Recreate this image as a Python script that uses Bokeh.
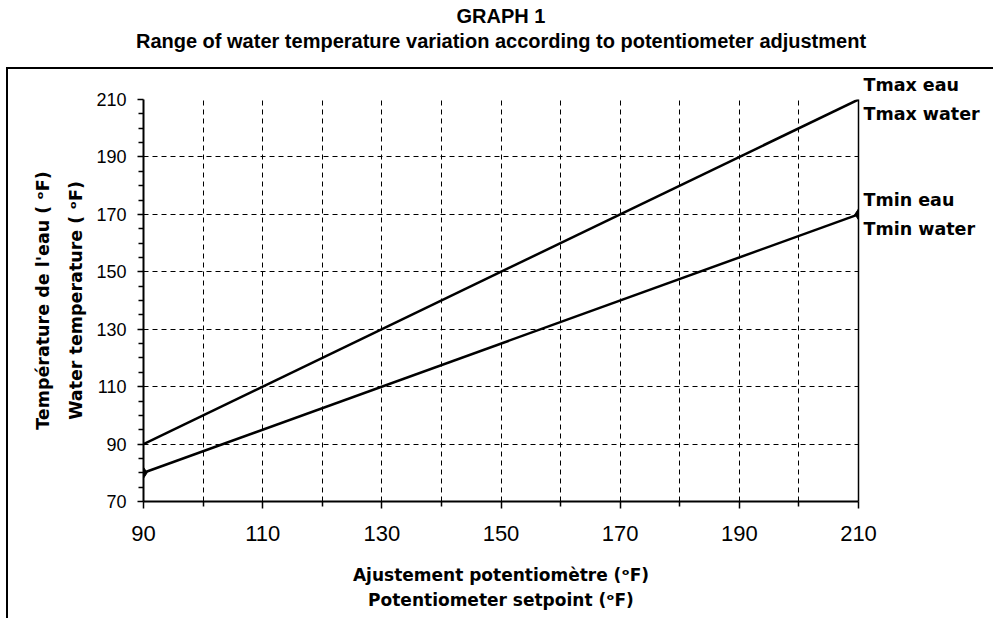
from bokeh.plotting import figure
from bokeh.models import Range1d, Title, FixedTicker, LinearAxis, InlineStyleSheet
from bokeh.embed import file_html
from bokeh.resources import INLINE

# ---- data ----
setpoint = [90, 210]
tmax_water = [90, 210]
tmin_water = [80, 170]
x_major = [90, 110, 130, 150, 170, 190, 210]
x_minor = [100, 120, 140, 160, 180, 200]
y_major = [70, 90, 110, 130, 150, 170, 190, 210]
y_minor = [75, 80, 85, 95, 100, 105, 115, 120, 125, 135, 140, 145,
           155, 160, 165, 175, 180, 185, 195, 200, 205]
title_1 = "GRAPH 1"
title_2 = "Range of water temperature variation according to potentiometer adjustment"
x_label = "Ajustement potentiomètre (\u1d52F)\nPotentiometer setpoint (\u1d52F)"
y_label = "Température de l'eau ( \u1d52F)\nWater temperature ( \u1d52F)"
tmax_names = "Tmax eau\nTmax water"
tmin_names = "Tmin eau\nTmin water"

FONT = "DejaVu Sans"
TFONT = "Liberation Sans"

W, H = 993, 618
FL, FR, FT, FB = 143, 858, 99, 501
p = figure(width=W, height=H, output_backend="svg", toolbar_location=None,
           x_range=Range1d(90, 210), y_range=Range1d(70, 210),
           min_border_left=FL, min_border_right=W - FR,
           min_border_top=FT, min_border_bottom=H - FB)
p.title.visible = False
p.outline_line_color = None
p.background_fill_color = "white"
p.border_fill_color = "white"

# axes
p.xaxis.ticker = FixedTicker(ticks=x_major, minor_ticks=x_minor)
p.yaxis.ticker = FixedTicker(ticks=y_major, minor_ticks=y_minor)
for ax in (p.xaxis, p.yaxis):
    ax.axis_line_color = "black"
    ax.axis_line_width = 2
    ax.major_tick_line_color = "black"
    ax.minor_tick_line_color = "black"
    ax.major_tick_line_width = 1.5
    ax.minor_tick_line_width = 1.5
    ax.major_tick_in = 0
    ax.minor_tick_in = 0
    ax.major_label_text_color = "black"
    ax.major_label_text_font = TFONT
    ax.axis_label_text_font = FONT
    ax.axis_label_text_font_style = "bold"
    ax.axis_label_text_color = "black"

p.xaxis.major_tick_out = 7
p.xaxis.minor_tick_out = 5
p.xaxis.major_label_text_font_size = "22px"
p.xaxis.major_label_standoff = 17
p.xaxis.axis_label = x_label
p.xaxis.axis_label_text_font_size = "17px"
p.xaxis.axis_label_text_line_height = 1.29
p.xaxis.axis_label_standoff = 21

p.yaxis.major_tick_out = 6
p.yaxis.minor_tick_out = 5
p.yaxis.major_label_text_font_size = "18px"
p.yaxis.major_label_standoff = 11
p.yaxis.axis_label = y_label
p.yaxis.axis_label_text_font_size = "17.5px"
p.yaxis.axis_label_text_line_height = 1.65
p.yaxis.axis_label_standoff = 7

# right-hand border of the plot area, carrying the series names
right = LinearAxis(ticker=FixedTicker(ticks=[tmin_water[-1], tmax_water[-1]]),
                   major_label_overrides={tmin_water[-1]: tmin_names,
                                          tmax_water[-1]: tmax_names},
                   axis_line_color="black", axis_line_width=1.5,
                   major_tick_line_color=None, minor_tick_line_color=None,
                   major_tick_out=0, minor_tick_out=0,
                   major_label_standoff=5,
                   major_label_text_font=FONT, major_label_text_font_style="bold",
                   major_label_text_font_size="17.5px",
                   major_label_text_line_height=1.48,
                   major_label_text_color="black")
p.add_layout(right, "right")

# grid
p.xgrid.ticker = FixedTicker(ticks=x_major, minor_ticks=x_minor)
p.xgrid.grid_line_color = "black"
p.xgrid.grid_line_dash = "5 4"
p.xgrid.grid_line_width = 1
p.xgrid.minor_grid_line_color = "black"
p.xgrid.minor_grid_line_dash = "5 4"
p.xgrid.minor_grid_line_width = 1
p.ygrid.ticker = FixedTicker(ticks=y_major)
p.ygrid.grid_line_color = "black"
p.ygrid.grid_line_dash = "5 4"
p.ygrid.grid_line_width = 1

# series
p.line(setpoint, tmax_water, line_color="black", line_width=2.5)
p.line(setpoint, tmin_water, line_color="black", line_width=2.5)
p.scatter(setpoint, tmin_water, marker="diamond", size=11,
          fill_color="black", line_color="black")

# titles (first added sits nearest the plot area)
p.add_layout(Title(text=" ", text_font_size="10px", standoff=31), "above")
p.add_layout(Title(text=title_2, align="center", offset=-3, standoff=6.8,
                   text_font=TFONT, text_font_style="bold", text_font_size="20px",
                   text_color="black"), "above")
p.add_layout(Title(text=title_1, align="center", offset=-3, standoff=-5,
                   text_font=TFONT, text_font_style="bold", text_font_size="20px",
                   text_color="black"), "above")

# outer frame (below the title)
p.stylesheets = [InlineStyleSheet(css=""":host::after {
  content: ""; position: absolute; left: 6px; top: 67px; right: 0; bottom: 0;
  border-left: 2px solid #000; border-top: 2px solid #000; pointer-events: none;
}""")]

open("out.html", "w").write(file_html(p, INLINE))
